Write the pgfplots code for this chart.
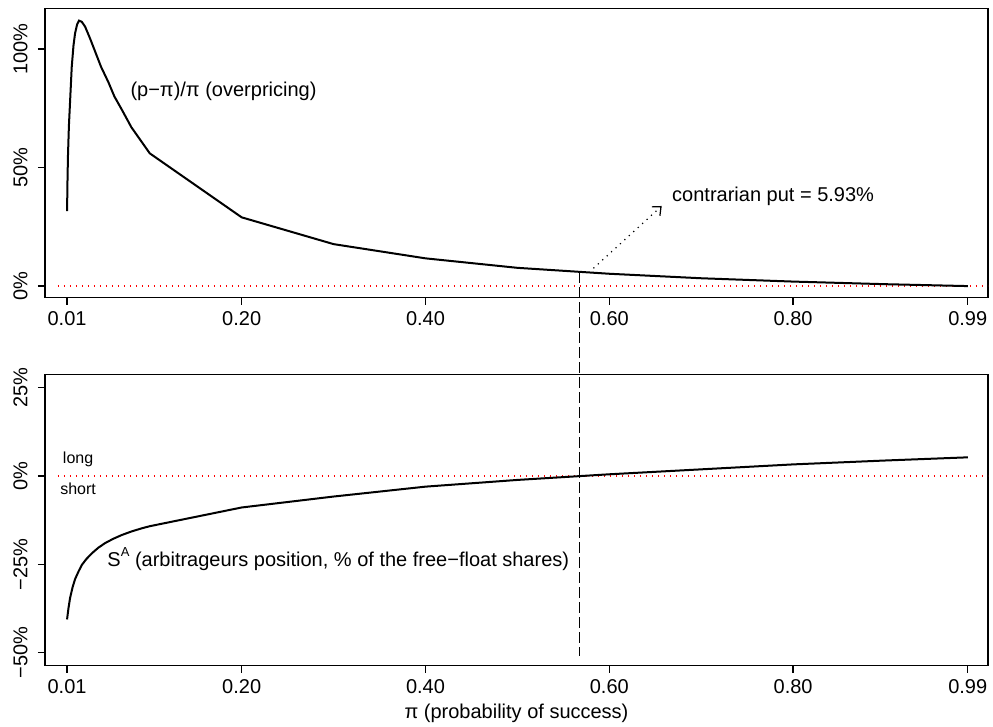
\documentclass[border=0pt]{standalone}
\usepackage{fontspec}
\setmainfont{Liberation Sans}
\usepackage{pgfplots}
\pgfplotsset{compat=1.18}
\usetikzlibrary{arrows.meta}

\pgfplotsset{
  rpanel/.style={
    scale only axis,
    width=471.5pt,
    xmin=-0.014, xmax=1.012,
    xtick={0.01,0.2,0.4,0.6,0.8,0.99},
    xticklabels={0.01,0.20,0.40,0.60,0.80,0.99},
    tick align=outside,
    tick pos=left,
    major tick length=3.5pt,
    axis line style={line width=0.7pt},
    every tick/.style={line width=0.7pt, black},
    ticklabel style={font=\fontsize{10}{12}\selectfont},
    % rotated labels: yshift moves them away from the axis
    yticklabel style={rotate=90, anchor=south, inner sep=0pt, yshift=5pt},
    label style={font=\fontsize{10}{12}\selectfont},
  },
  zeroline/.style={red, line width=0.6pt, dash pattern=on 0.6pt off 2.4pt},
  curve/.style={black, line width=1pt, no marks},
}

\begin{document}
\begin{tikzpicture}
\path[use as bounding box] (-22.5pt,4.15pt) rectangle (474pt,-359.35pt);

% top panel: overpricing
\begin{axis}[
  rpanel,
  at={(0,0)}, anchor=north west,
  height=144.7pt,
  ymin=-4.9, ymax=117.2,
  ytick={0,50,100},
  yticklabels={0\%,50\%,100\%},
]
\addplot[zeroline] coordinates {(0,0) (1.012,0)};
\addplot[curve] coordinates {
  (0.0100,31.6) (0.0105,45.0) (0.0110,55.0) (0.0120,67.5) (0.0133,78.0)
  (0.0151,92.5) (0.0170,101.5) (0.0187,106.6) (0.0210,110.5) (0.0230,112.0)
  (0.0260,111.5) (0.0296,109.5) (0.0350,104.5) (0.0405,99.0) (0.0470,92.5)
  (0.0550,86.0) (0.0615,80.0) (0.0695,74.5) (0.0800,67.0) (0.1000,56.0)
  (0.2000,29.0) (0.3000,17.7) (0.4000,11.7) (0.5000,7.7) (0.6000,5.2)
  (0.7000,3.3) (0.8000,1.9) (0.9000,0.8) (0.9900,0.0)
};
\node[anchor=west, inner sep=0pt, font=\fontsize{10}{12}\selectfont]
  at (axis cs:0.0786,82.3) {(p−π)/π (overpricing)};
\node[anchor=west, inner sep=0pt, font=\fontsize{10}{12}\selectfont]
  at (axis cs:0.668,38) {contrarian put = 5.93\%};
\draw[line width=0.6pt, dash pattern=on 0.6pt off 2.4pt,
      -{Straight Barb[length=3.5pt,width=6pt]}]
  (axis cs:0.5827,7.5) -- (axis cs:0.657,33.8);
\coordinate (vtop) at (axis cs:0.568,5.93);
\end{axis}

% bottom panel: arbitrageurs position
\begin{axis}[
  rpanel,
  at={(0,-183.2pt)}, anchor=north west,
  height=145.5pt,
  ymin=-53.7, ymax=28.7,
  ytick={-50,-25,0,25},
  yticklabels={−50\%,−25\%,0\%,25\%},
  xlabel={π (probability of success)},
  xlabel style={yshift=2pt},
]
\addplot[zeroline] coordinates {(0,0) (1.012,0)};
\addplot[curve] coordinates {
  (0.0100,-40.6) (0.0115,-37.5) (0.0133,-34.5) (0.0160,-31.5) (0.0187,-29.2)
  (0.0225,-27.0) (0.0260,-25.2) (0.0310,-23.5) (0.0369,-21.9) (0.0440,-20.3)
  (0.0513,-19.0) (0.0600,-17.8) (0.0695,-16.7) (0.0800,-15.7) (0.0913,-14.8)
  (0.1000,-14.2) (0.2000,-8.9) (0.3000,-5.8) (0.4000,-3.0) (0.5000,-1.1)
  (0.6000,0.5) (0.7000,1.9) (0.8000,3.3) (0.9000,4.4) (0.9900,5.3)
};
\node[font=\fontsize{8}{10}\selectfont] at (axis cs:0.022,4.8) {long};
\node[font=\fontsize{8}{10}\selectfont] at (axis cs:0.022,-3.7) {short};
\node[anchor=west, inner sep=0pt, font=\fontsize{10}{12}\selectfont]
  at (axis cs:0.0535,-23.5)
  {S\raisebox{0.9ex}{\fontsize{6.5}{7}\selectfont A} (arbitrageurs position, \% of the free−float shares)};
\coordinate (vbot) at (axis cs:0.568,-51);
\end{axis}

\draw[line width=0.5pt, dash pattern=on 5.5pt off 2pt] (vtop) -- (vbot);
\end{tikzpicture}
\end{document}
